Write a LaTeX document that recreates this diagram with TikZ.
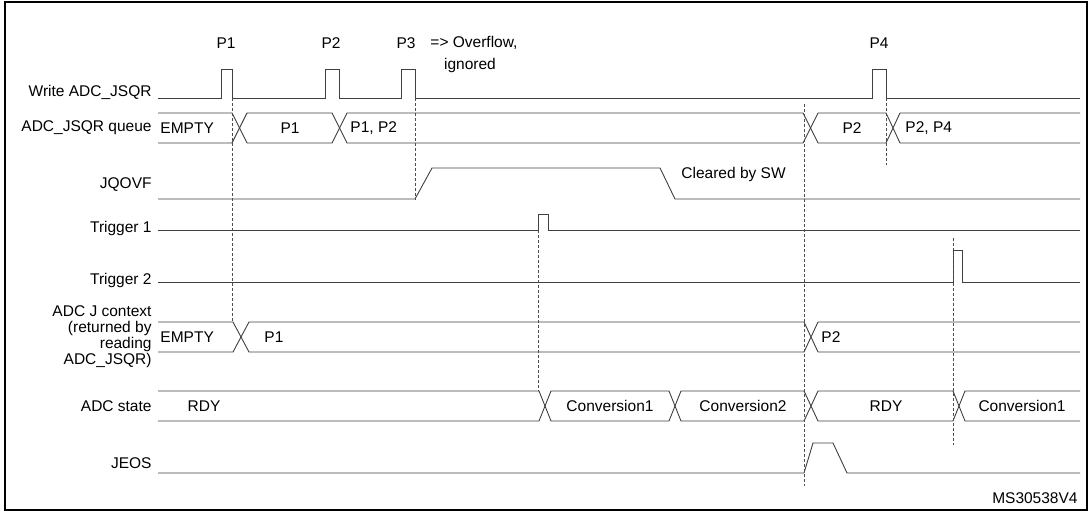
\documentclass[tikz,border=0pt]{standalone}
\usepackage{fontspec}
\setmainfont{Liberation Sans}
\begin{document}
\begin{tikzpicture}[x=1pt,y=-1pt,line width=0.9pt,
  sig/.style={draw=black!75},
  vdash/.style={draw=black!70,line width=0.7pt,dash pattern=on 3pt off 2pt},
  lbl/.style={anchor=east,font=\fontsize{15.5}{18}\selectfont,inner sep=0pt},
  txt/.style={font=\fontsize{15.5}{18}\selectfont,inner sep=0pt},
  ltxt/.style={txt,anchor=west}]
\useasboundingbox (0,0) rectangle (1089,513);
\draw[line width=1.2pt] (5,2) rectangle (1087,510);
% labels
\node[lbl] (l1) at (152,92) {Write ADC\_JSQR};
\node[lbl] (l2) at (152,128) {ADC\_JSQR queue};
\node[lbl] (l3) at (152,185) {JQOVF};
\node[lbl] (l4) at (152,228) {Trigger 1};
\node[lbl] (l5) at (152,280) {Trigger 2};
\node[lbl,align=right,font=\fontsize{15.5}{16}\selectfont] (l6) at (152,337) {ADC J context\\(returned by\\reading\\ADC\_JSQR)};
\node[lbl] (l7) at (152,406) {ADC state};
\node[lbl] (l8) at (152,463) {JEOS};
% write
\draw[sig] (158,98)--(221,98)--(221,69)--(232,69)--(232,98)--(325,98)--(325,69)--(339,69)--(339,98)--(401,98)--(401,69)--(415,69)--(415,98)--(872,98)--(872,69)--(886,69)--(886,98)--(1080,98);
\node[txt] (p1) at (226,43) {P1};
\node[txt] (p2) at (331,43) {P2};
\node[txt] (p3) at (406,43) {P3};
\node[ltxt] (ov) at (430,43) {=> Overflow,};
\node[txt] (ig) at (470,65) {ignored};
\node[txt] (p4) at (879,43) {P4};
% queue
\draw[sig] (158,113)--(232,113)--(247,143)--(332,143)--(347,113)--(803,113)--(818,143)--(886,143)--(900,113)--(1080,113);
\draw[sig] (158,143)--(232,143)--(247,113)--(332,113)--(347,143)--(803,143)--(818,113)--(886,113)--(900,143)--(1080,143);
\node[ltxt] (q1) at (160,128) {EMPTY};
\node[txt] (q2) at (290,128) {P1};
\node[ltxt] (q3) at (350,128) {P1, P2};
\node[txt] (q4) at (852,128) {P2};
\node[ltxt] (q5) at (905,128) {P2, P4};
% JQOVF
\draw[sig] (158,199)--(415,199)--(432,168)--(660,168)--(675,199)--(1080,199);
\node[ltxt] (cl) at (681,174) {Cleared by SW};
% triggers
\draw[sig] (158,230)--(538,230)--(538,214)--(548,214)--(548,230)--(1080,230);
\draw[sig] (158,282)--(953,282)--(953,250)--(962,250)--(962,282)--(1080,282);
% ADC J context
\draw[sig] (158,322)--(233,322)--(249,352)--(804,352)--(818,322)--(1080,322);
\draw[sig] (158,352)--(233,352)--(249,322)--(804,322)--(818,352)--(1080,352);
\node[ltxt] (c1) at (160,337) {EMPTY};
\node[ltxt] (c2) at (264,337) {P1};
\node[ltxt] (c3) at (821,337) {P2};
% ADC state
\draw[sig] (158,391)--(539,391)--(551,421)--(669,421)--(681,391)--(804,391)--(818,421)--(953,421)--(965,391)--(1080,391);
\draw[sig] (158,421)--(539,421)--(551,391)--(669,391)--(681,421)--(804,421)--(818,391)--(953,391)--(965,421)--(1080,421);
\node[txt] (s1) at (204,406) {RDY};
\node[txt] (s2) at (610,406) {Conversion1};
\node[txt] (s3) at (743,406) {Conversion2};
\node[txt] (s4) at (886,406) {RDY};
\node[txt] (s5) at (1022,406) {Conversion1};
% JEOS
\draw[sig] (158,473)--(804,473)--(813,443)--(833,443)--(847,473)--(1080,473);
% dashed
\draw[vdash] (232,98)--(232,322);
\draw[vdash] (415,98)--(415,200);
\draw[vdash] (538,230)--(538,391);
\draw[vdash] (804,104)--(804,486);
\draw[vdash] (886,98)--(886,165);
\draw[vdash] (953,238)--(953,445);
\node[txt,anchor=east] (ms) at (1078,498) {MS30538V4};
\end{tikzpicture}
\end{document}
